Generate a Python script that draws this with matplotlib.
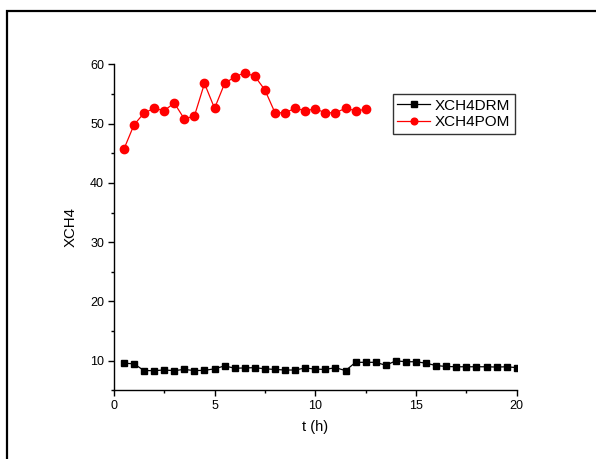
import matplotlib
matplotlib.use("Agg")
import matplotlib.pyplot as plt
from matplotlib.patches import Rectangle
from matplotlib.ticker import MultipleLocator

plt.rcParams['font.family'] = ['Liberation Sans', 'DejaVu Sans']

# data
t_drm = [0.5 * (i + 1) for i in range(40)]
xch4_drm = [9.55, 9.45, 8.3, 8.3, 8.4, 8.3, 8.5, 8.3, 8.35, 8.6,
            9.1, 8.7, 8.75, 8.8, 8.6, 8.5, 8.4, 8.4, 8.75, 8.55,
            8.5, 8.8, 8.3, 9.7, 9.7, 9.7, 9.2, 9.95, 9.8, 9.8,
            9.55, 9.15, 9.0, 8.95, 8.95, 8.95, 8.95, 8.9, 8.95, 8.8]
t_pom = [0.5 * (i + 1) for i in range(25)]
xch4_pom = [45.7, 49.8, 51.8, 52.6, 52.2, 53.5, 50.8, 51.3, 56.8, 52.6,
            56.8, 57.9, 58.6, 58.0, 55.7, 51.85, 51.85, 52.6, 52.2, 52.5,
            51.85, 51.85, 52.6, 52.2, 52.4]

fig = plt.figure(figsize=(5.96, 4.59), dpi=100)
ax = fig.add_axes([0.191, 0.150, 0.676, 0.7095])

ax.plot(t_drm, xch4_drm, color='black', marker='s', markersize=4.8, lw=0.9, label='XCH4DRM')
ax.plot(t_pom, xch4_pom, color='red', marker='o', markersize=6, lw=0.9, label='XCH4POM')

ax.set_xlim(0, 20)
ax.set_ylim(5, 60)
ax.xaxis.set_major_locator(MultipleLocator(5))
ax.xaxis.set_minor_locator(MultipleLocator(2.5))
ax.yaxis.set_major_locator(MultipleLocator(10))
ax.yaxis.set_minor_locator(MultipleLocator(5))
ax.spines['top'].set_visible(False)
ax.spines['right'].set_visible(False)
for s in ['left', 'bottom']:
    ax.spines[s].set_linewidth(1.0)
ax.tick_params(which='major', direction='out', length=4.5, width=1.0, labelsize=9, pad=2.5)
ax.tick_params(which='minor', direction='out', length=2.5, width=1.0)

ax.set_xlabel('t (h)', fontsize=10.5, labelpad=6)
ax.set_ylabel('XCH4', fontsize=10.8, labelpad=9)

leg = ax.legend(loc='upper left', bbox_to_anchor=(0.692, 0.909), fontsize=11,
                frameon=True, fancybox=False, handlelength=2.15, borderpad=0.3,
                labelspacing=0.15, handletextpad=0.3, borderaxespad=0,
                markerscale=0.8)
leg.get_frame().set_edgecolor('black')
leg.get_frame().set_linewidth(1.0)

# outer frame (only left and top visible in picture)
fig.patches.append(Rectangle((7 / 596, -0.1), 1.2, 1 - 11 / 459 + 0.1, transform=fig.transFigure,
                             fill=False, edgecolor='black', lw=1.6))

fig.savefig('out.png', dpi=100)
